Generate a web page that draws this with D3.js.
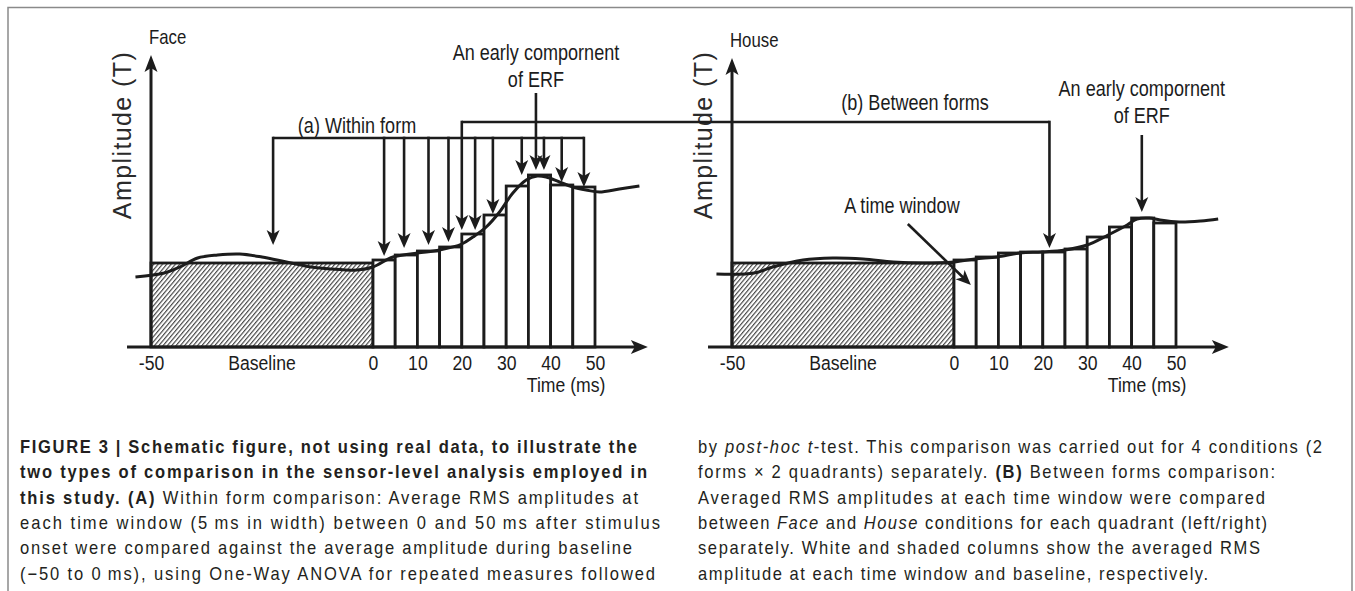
<!DOCTYPE html>
<html>
<head>
<meta charset="utf-8">
<script src="https://cdn.jsdelivr.net/npm/d3@7"></script>
<style>
  body { margin: 0; background: #fff; }
</style>
</head>
<body>
<div id="chart"></div>
<script>
/* Data (time in ms, amplitude in arbitrary units) */
const TIME_TICKS = [-50, 0, 10, 20, 30, 40, 50];
const WINDOW_STARTS = [0, 5, 10, 15, 20, 25, 30, 35, 40, 45];

const FACE_BASELINE = 84;
const FACE_WINDOWS = [87, 92, 96, 100, 113, 132, 161, 172, 162, 160];
const FACE_CURVE_T = [-53.5, -47, -43.5, -39.5, -35, -30, -25, -19.5, -14, -9.5, -3.5, 0, 4.5, 10, 15, 20, 22.5, 25.5, 28.5, 31.5, 34.5, 37, 39, 42, 45, 48, 51, 55.5, 60];
const FACE_CURVE_A = [70, 74, 80, 89, 92, 93, 90, 85, 80, 78, 77, 80, 90, 94, 97, 103, 110, 120, 135, 154, 167, 171, 170, 165, 160, 157, 155, 158, 161];

const HOUSE_BASELINE = 84;
const HOUSE_WINDOWS = [87, 90, 94, 95, 95, 98, 110, 120, 129, 124];
const HOUSE_CURVE_T = [-53.5, -45, -40.8, -34, -27.3, -20.5, -13.7, -7, 0, 4.7, 9.7, 14.9, 19.8, 25, 30, 34.7, 39, 41.2, 44, 46.4, 50.7, 55.6, 59.5];
const HOUSE_CURVE_A = [73, 74, 80, 87, 89, 88, 85, 84, 85, 88, 90, 94, 95, 97, 102, 112, 122, 128, 129, 127, 125, 126, 128];

/* annotation arrows */
const WITHIN_LEVEL = 209;
const WITHIN_ARROW_T = [-22.5, 2.5, 7, 12.5, 17, 23, 27, 33.5, 38.5, 42.5, 47.5];
const WITHIN_ARROW_TIP = [102, 91, 99, 102, 105, 117, 133, 172, 177, 165, 160];
const BETWEEN_LEVEL = 225;
const BETWEEN_FACE = { t: 20, tip: 117 };
const BETWEEN_HOUSE = { t: 21.5, tip: 99 };
const ERF_FACE = { t: 36.7, from: 254, tip: 177 };
const ERF_HOUSE = { t: 42.3, from: 212, tip: 135 };
const WINDOW_ARROW = { t0: -10.4, a0: 123, t1: 3.8, a1: 62 };

/* caption, one entry per printed line */
const CAPTION_LEFT = [
    [['b', 'FIGURE 3 | Schematic figure, not using real data, to illustrate the']],
    [['b', 'two types of comparison in the sensor-level analysis employed in']],
    [['b', 'this study. (A)'], ['n', ' Within form comparison: Average RMS amplitudes at']],
    [['n', 'each time window (5\u2009ms in width) between 0 and 50\u2009ms after stimulus']],
    [['n', 'onset were compared against the average amplitude during baseline']],
    [['n', '(\u221250 to 0\u2009ms), using One-Way ANOVA for repeated measures followed']]
];
const CAPTION_RIGHT = [
    [['n', 'by '], ['i', 'post-hoc t'], ['n', '-test. This comparison was carried out for 4 conditions (2']],
    [['n', 'forms \u00d7 2 quadrants) separately. '], ['b', '(B)'], ['n', ' Between forms comparison:']],
    [['n', 'Averaged RMS amplitudes at each time window were compared']],
    [['n', 'between '], ['i', 'Face'], ['n', ' and '], ['i', 'House'], ['n', ' conditions for each quadrant (left/right)']],
    [['n', 'separately. White and shaded columns show the averaged RMS']],
    [['n', 'amplitude at each time window and baseline, respectively.']]
];
const CAPTION_LEFT_W = [617, 627, 618, 640, 612, 635];
const CAPTION_RIGHT_W = [624, 577, 567, 569, 562, 510];

/* Layout */
const W = 1355;
const H = 591;
const INK = '#1c1c1c';
const FONT = "'Liberation Sans', Arial, Helvetica, sans-serif";
const SQUEEZE = 0.84;   // condensed look for the figure labels

const svg = d3.select('#chart').append('svg')
    .attr('width', W)
    .attr('height', H)
    .style('background', '#fff');

const hatch = svg.append('defs').append('pattern')
    .attr('id', 'hatch')
    .attr('patternUnits', 'userSpaceOnUse')
    .attr('width', 3.3)
    .attr('height', 10)
    .attr('patternTransform', 'rotate(40)');
hatch.append('rect').attr('width', 3.3).attr('height', 10).attr('fill', '#fff');
hatch.append('line')
    .attr('x1', 0.6).attr('x2', 0.6).attr('y1', 0).attr('y2', 10)
    .attr('stroke', '#3a3a3a').attr('stroke-width', 1.1);

/* frame */
svg.append('path')
    .attr('d', `M8,${H} V7.5 H1352 V${H}`)
    .attr('fill', 'none')
    .attr('stroke', '#8a8a8a')
    .attr('stroke-width', 1.5);

const y = d3.scaleLinear().domain([0, 300]).range([347, 47]);

// condensed text label
function label(g, px, py, txt, size, anchor) {
    return g.append('text')
        .attr('transform', `translate(${px},${py}) scale(${SQUEEZE},1)`)
        .attr('text-anchor', anchor || 'middle')
        .style('font-family', FONT)
        .style('font-size', size + 'px')
        .attr('fill', INK)
        .text(txt);
}

function headDown(px, py) {
    return `M${px},${py} L${px - 6.5},${py - 15} L${px},${py - 11} L${px + 6.5},${py - 15} Z`;
}

function arrowDown(g, px, yFrom, yTip) {
    g.append('line')
        .attr('x1', px).attr('x2', px)
        .attr('y1', yFrom).attr('y2', yTip - 10)
        .attr('stroke', INK).attr('stroke-width', 2.6);
    g.append('path').attr('d', headDown(px, yTip)).attr('fill', INK);
}

function drawPanel(cfg) {
    const x = d3.scaleLinear().domain([-50, 50]).range([cfg.x0, cfg.x0 + 444]);
    const g = svg.append('g');

    // baseline column
    g.append('rect')
        .attr('x', x(-50))
        .attr('y', y(cfg.baseline))
        .attr('width', x(0) - x(-50))
        .attr('height', y(0) - y(cfg.baseline))
        .attr('fill', 'url(#hatch)')
        .attr('stroke', INK)
        .attr('stroke-width', 2.8);

    // time window columns
    g.selectAll('.win').data(cfg.windows).enter().append('rect').classed('win', true)
        .attr('x', (d, i) => x(WINDOW_STARTS[i]))
        .attr('y', d => y(d))
        .attr('width', x(5) - x(0))
        .attr('height', d => y(0) - y(d))
        .attr('fill', '#fff')
        .attr('stroke', INK)
        .attr('stroke-width', 2.8);

    // ERF curve
    const pts = cfg.curveT.map((t, i) => [t, cfg.curveA[i]]);
    g.append('path')
        .attr('d', d3.line().x(d => x(d[0])).y(d => y(d[1])).curve(d3.curveCatmullRom.alpha(0.5))(pts))
        .attr('fill', 'none')
        .attr('stroke', INK)
        .attr('stroke-width', 3);

    // x axis with arrow
    const xa = y(0);
    const xEnd = x(61.9);
    g.append('line')
        .attr('x1', x(-55.4)).attr('x2', xEnd - 12)
        .attr('y1', xa).attr('y2', xa)
        .attr('stroke', INK).attr('stroke-width', 3);
    g.append('path')
        .attr('d', `M${xEnd},${xa} L${xEnd - 17},${xa - 7} L${xEnd - 13},${xa} L${xEnd - 17},${xa + 7} Z`)
        .attr('fill', INK);

    // y axis with arrow
    const ya = x(-50);
    const yTop = y(cfg.yTop);
    g.append('line')
        .attr('x1', ya).attr('x2', ya)
        .attr('y1', xa).attr('y2', yTop + 12)
        .attr('stroke', INK).attr('stroke-width', 3);
    g.append('path')
        .attr('d', `M${ya},${yTop} L${ya - 6.5},${yTop + 17} L${ya},${yTop + 13} L${ya + 6.5},${yTop + 17} Z`)
        .attr('fill', INK);

    // tick labels
    const axis = d3.axisBottom(x).tickValues(TIME_TICKS).tickSize(0).tickPadding(0)
        .tickFormat(d => (d < 0 ? '-' + Math.abs(d) : String(d)));
    const ag = g.append('g').attr('transform', `translate(0,${xa + 23})`).call(axis);
    ag.select('.domain').remove();
    ag.selectAll('text')
        .attr('dy', 0)
        .attr('y', 0)
        .attr('transform', `scale(${SQUEEZE},1)`)
        .attr('fill', INK)
        .style('font-family', FONT)
        .style('font-size', '21px');

    label(g, x(-25), xa + 23, 'Baseline', 21);
    label(g, x(43.5), xa + 45, 'Time (ms)', 21);

    // y axis title and condition name
    g.append('text')
        .attr('transform', `translate(${ya - 20},${135}) rotate(-90)`)
        .attr('text-anchor', 'middle')
        .style('font-family', FONT).style('font-size', '25px')
        .style('letter-spacing', '1.4px')
        .attr('fill', '#2a2a2a')
        .text('Amplitude (T)');

    label(g, ya - 2, cfg.nameY, cfg.name, 20, 'start');

    // ERF arrow and label
    arrowDown(g, x(cfg.erf.t), y(cfg.erf.from), y(cfg.erf.tip));
    label(g, x(cfg.erf.t), cfg.erfLabelY, 'An early compornent', 21.5);
    label(g, x(cfg.erf.t), cfg.erfLabelY + 27, 'of ERF', 21.5);

    return { g, x };
}

const face = drawPanel({
    x0: 151, baseline: FACE_BASELINE, windows: FACE_WINDOWS,
    curveT: FACE_CURVE_T, curveA: FACE_CURVE_A,
    yTop: 292, name: 'Face', nameY: 44, erf: ERF_FACE, erfLabelY: 60
});
const house = drawPanel({
    x0: 732, baseline: HOUSE_BASELINE, windows: HOUSE_WINDOWS,
    curveT: HOUSE_CURVE_T, curveA: HOUSE_CURVE_A,
    yTop: 289, name: 'House', nameY: 47, erf: ERF_HOUSE, erfLabelY: 96
});

/* (a) within form bracket */
const ann = svg.append('g');
const wy = y(WITHIN_LEVEL);
ann.append('line')
    .attr('x1', face.x(WITHIN_ARROW_T[0])).attr('x2', face.x(WITHIN_ARROW_T[WITHIN_ARROW_T.length - 1]))
    .attr('y1', wy).attr('y2', wy)
    .attr('stroke', INK).attr('stroke-width', 2.6);
WITHIN_ARROW_T.forEach((t, i) => arrowDown(ann, face.x(t), wy - 1.3, y(WITHIN_ARROW_TIP[i])));
label(ann, 357, 133, '(a) Within form', 21.5);

/* (b) between forms bracket */
const by = y(BETWEEN_LEVEL);
ann.append('line')
    .attr('x1', face.x(BETWEEN_FACE.t)).attr('x2', house.x(BETWEEN_HOUSE.t))
    .attr('y1', by).attr('y2', by)
    .attr('stroke', INK).attr('stroke-width', 2.6);
arrowDown(ann, face.x(BETWEEN_FACE.t), by - 1.3, y(BETWEEN_FACE.tip));
arrowDown(ann, house.x(BETWEEN_HOUSE.t), by - 1.3, y(BETWEEN_HOUSE.tip));
label(ann, 915, 110, '(b) Between forms', 21.5);

/* time window pointer */
const tx0 = house.x(WINDOW_ARROW.t0), ty0 = y(WINDOW_ARROW.a0);
const tx1 = house.x(WINDOW_ARROW.t1), ty1 = y(WINDOW_ARROW.a1);
const ang = Math.atan2(ty1 - ty0, tx1 - tx0);
ann.append('line')
    .attr('x1', tx0).attr('y1', ty0)
    .attr('x2', tx1 - 10 * Math.cos(ang)).attr('y2', ty1 - 10 * Math.sin(ang))
    .attr('stroke', INK).attr('stroke-width', 2.6);
ann.append('path')
    .attr('d', 'M0,0 L-15,-6.5 L-11,0 L-15,6.5 Z')
    .attr('transform', `translate(${tx1},${ty1}) rotate(${ang * 180 / Math.PI})`)
    .attr('fill', INK);
label(ann, 902, 213, 'A time window', 21.5);

/* caption */
const CAP_SQUEEZE = 0.92;
function captionColumn(lines, widths, x0) {
    lines.forEach((segs, i) => {
        const t = svg.append('text')
            .attr('transform', `translate(${x0},${453 + i * 25.3}) scale(${CAP_SQUEEZE},1)`)
            .attr('textLength', widths[i] / CAP_SQUEEZE)
            .attr('lengthAdjust', 'spacing')
            .style('font-family', FONT)
            .style('font-size', '18px')
            .attr('fill', '#231f20');
        segs.forEach(s => {
            t.append('tspan')
                .style('font-weight', s[0] === 'b' ? 'bold' : 'normal')
                .style('font-style', s[0] === 'i' ? 'italic' : 'normal')
                .text(s[1]);
        });
    });
}
captionColumn(CAPTION_LEFT, CAPTION_LEFT_W, 20);
captionColumn(CAPTION_RIGHT, CAPTION_RIGHT_W, 698);
</script>
</body>
</html>
